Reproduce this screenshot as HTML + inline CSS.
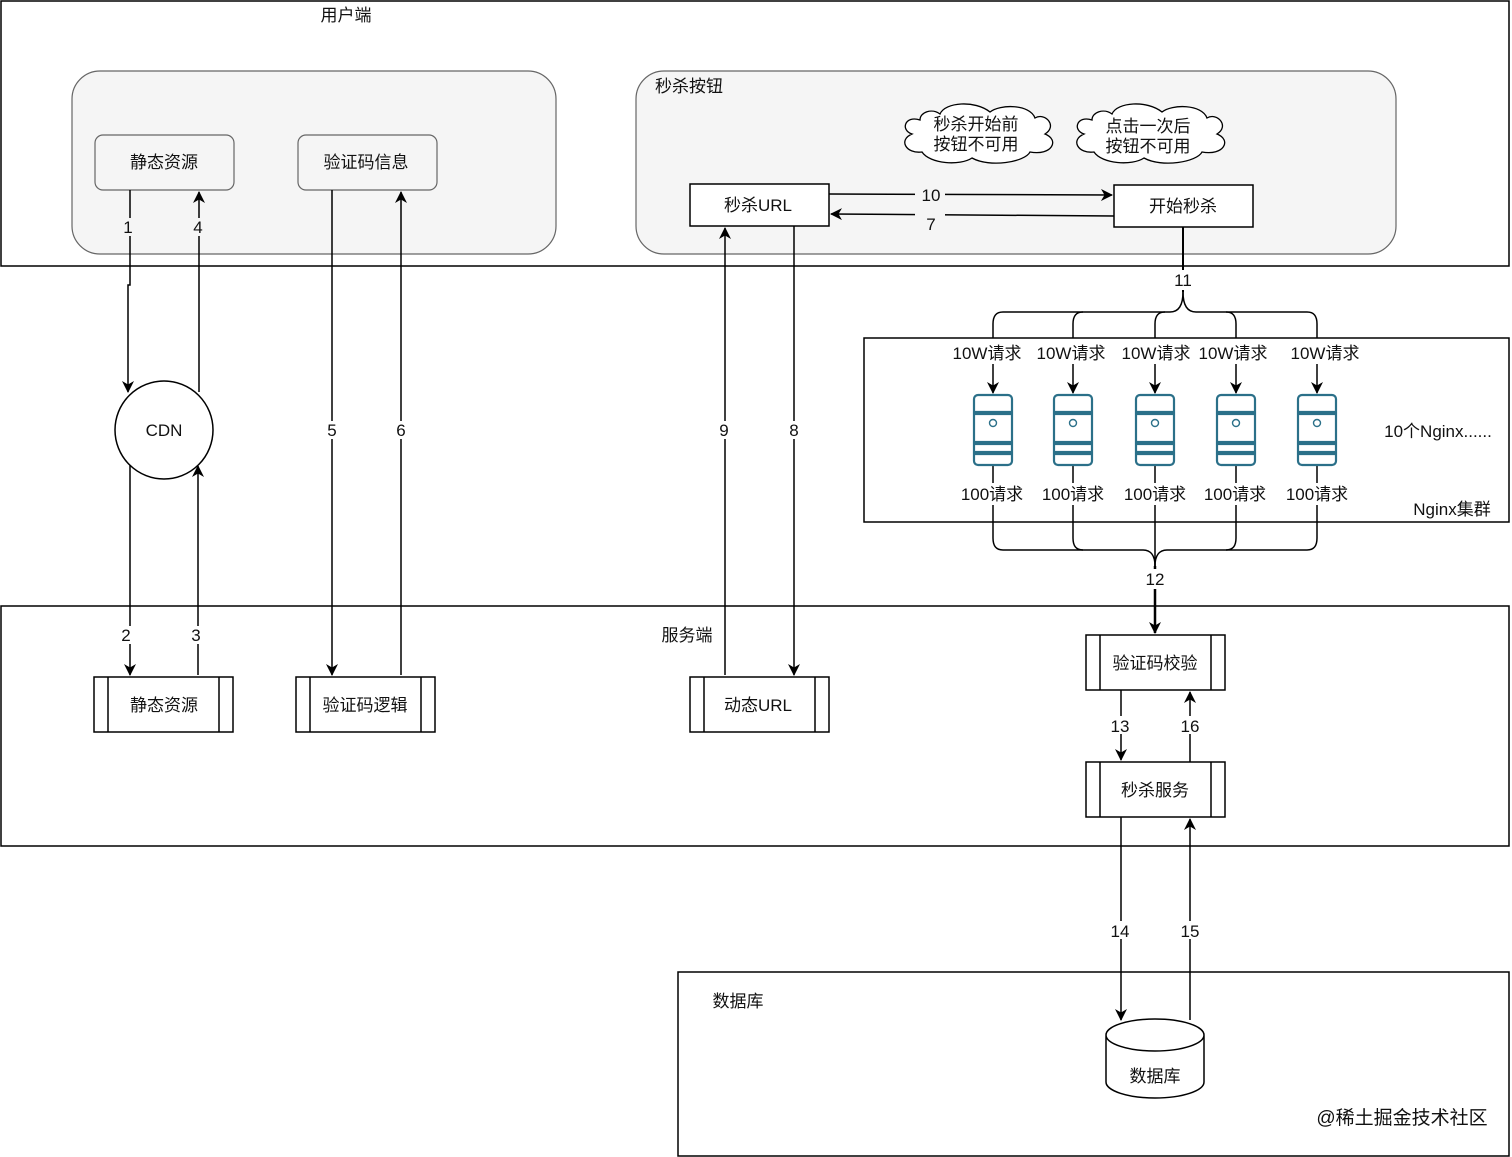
<!DOCTYPE html>
<html><head><meta charset="utf-8"><style>
html,body{margin:0;padding:0;background:#fff}
svg{display:block}
text{font-family:"Liberation Sans","Noto Sans CJK SC",sans-serif;font-size:17px;fill:#111}
</style></head><body>
<svg width="1512" height="1157" viewBox="0 0 1512 1157" xmlns="http://www.w3.org/2000/svg">
<defs>
<marker id="a" markerWidth="12" markerHeight="12" refX="11" refY="6" orient="auto" markerUnits="userSpaceOnUse">
<path d="M0,0 L12,6 L0,12 L3.5,6 Z" fill="#000"/></marker>
<g id="srv" fill="none" stroke="#2b7089" stroke-width="2.2">
<path d="M-19,412 V399 a4,4 0 0 1 4,-4 H15 a4,4 0 0 1 4,4 V412 Z"/>
<rect x="-19" y="414" width="38" height="28"/>
<circle cx="0" cy="423" r="3.5" stroke-width="1.4"/>
<rect x="-19" y="444" width="38" height="8"/>
<path d="M-19,454 H19 V461 a4,4 0 0 1 -4,4 H-15 a4,4 0 0 1 -4,-4 Z"/>
</g>
</defs>
<g fill="none" stroke="#000" stroke-width="1.5">
<rect x="1" y="1" width="1508" height="265"/>
<rect x="1" y="606" width="1508" height="240"/>
<rect x="678" y="972" width="831" height="184"/>
<rect x="864" y="338" width="645" height="184"/>
</g>
<rect x="72" y="71" width="484" height="183" rx="28" fill="#f5f5f5" stroke="#666" stroke-width="1.2"/>
<rect x="636" y="71" width="760" height="183" rx="28" fill="#f5f5f5" stroke="#666" stroke-width="1.2"/>
<rect x="95" y="135" width="139" height="55" rx="8" fill="#f5f5f5" stroke="#666" stroke-width="1.2"/>
<rect x="298" y="135" width="139" height="55" rx="8" fill="#f5f5f5" stroke="#666" stroke-width="1.2"/>
<g fill="#fff" stroke="#000" stroke-width="1.5">
<rect x="690" y="184" width="139" height="42"/>
<rect x="1114" y="185" width="139" height="42"/>
<circle cx="164" cy="430" r="49"/>
<rect x="94" y="677" width="139" height="55"/><line x1="108" y1="677" x2="108" y2="732"/><line x1="219" y1="677" x2="219" y2="732"/>
<rect x="296" y="677" width="139" height="55"/><line x1="310" y1="677" x2="310" y2="732"/><line x1="421" y1="677" x2="421" y2="732"/>
<rect x="690" y="677" width="139" height="55"/><line x1="704" y1="677" x2="704" y2="732"/><line x1="815" y1="677" x2="815" y2="732"/>
<rect x="1086" y="635" width="139" height="55"/><line x1="1100" y1="635" x2="1100" y2="690"/><line x1="1211" y1="635" x2="1211" y2="690"/>
<rect x="1086" y="762" width="139" height="55"/><line x1="1100" y1="762" x2="1100" y2="817"/><line x1="1211" y1="762" x2="1211" y2="817"/>
<path d="M1106,1035 V1082 A49,16 0 0 0 1204,1082 V1035 A49,16 0 0 0 1106,1035 A49,16 0 0 0 1204,1035"/>
</g>
<g fill="#fff" stroke="#000" stroke-width="1.3">
<path d="M920,120 C905,115 900,130 912,134 C898,140 906,154 922,152 C930,164 960,166 972,158 C990,168 1025,162 1030,152 C1052,156 1060,140 1045,134 C1058,126 1045,112 1035,118 C1030,104 1000,104 990,112 C975,100 945,102 940,114 C932,108 920,112 920,120 Z"/>
<path d="M1092,120 C1077,115 1072,130 1084,134 C1070,140 1078,154 1094,152 C1102,164 1132,166 1144,158 C1162,168 1197,162 1202,152 C1224,156 1232,140 1217,134 C1230,126 1217,112 1207,118 C1202,104 1172,104 1162,112 C1147,100 1117,102 1112,114 C1104,108 1092,112 1092,120 Z"/>
</g>
<g fill="none" stroke="#000" stroke-width="1.5">
<path d="M130,190 V285 H128 V392" marker-end="url(#a)"/>
<path d="M199,392 V192" marker-end="url(#a)"/>
<path d="M130,465 V675" marker-end="url(#a)"/>
<path d="M198,675 V466" marker-end="url(#a)"/>
<path d="M332,190 V675" marker-end="url(#a)"/>
<path d="M401,675 V192" marker-end="url(#a)"/>
<path d="M725,675 V228" marker-end="url(#a)"/>
<path d="M794,226 V675" marker-end="url(#a)"/>
<path d="M829,194 L1112,195" marker-end="url(#a)"/>
<path d="M1114,216 L831,214" marker-end="url(#a)"/>
<path d="M1121,690 V760" marker-end="url(#a)"/>
<path d="M1190,762 V692" marker-end="url(#a)"/>
<path d="M1121,817 V1020" marker-end="url(#a)"/>
<path d="M1190,1020 V819" marker-end="url(#a)"/>
<path d="M1183,227 V292" stroke-width="2"/>
<path d="M1183,292 C1183,306 1178,312 1170,312 H1003 C996,312 993,316 993,324 V338"/>
<path d="M1183,292 C1183,306 1188,312 1196,312 H1307 C1314,312 1317,316 1317,324 V338"/>
<path d="M1073,338 V324 C1073,316 1076,312 1083,312"/>
<path d="M1155,338 V324 C1155,316 1158,312 1165,312"/>
<path d="M1236,338 V324 C1236,316 1233,312 1226,312"/>
<path d="M993,505 V538 C993,546 996,550 1003,550 H1143 C1151,550 1155,556 1155,566"/>
<path d="M1317,505 V538 C1317,546 1314,550 1307,550 H1167 C1159,550 1155,556 1155,566"/>
<path d="M1073,505 V538 C1073,546 1076,550 1083,550"/>
<path d="M1236,505 V538 C1236,546 1233,550 1226,550"/>
<path d="M1155,505 V566"/>
<path d="M1155,566 V633" stroke-width="2.5" marker-end="url(#a)"/>
<path d="M993,364 V393" marker-end="url(#a)"/><path d="M1073,364 V393" marker-end="url(#a)"/><path d="M1155,364 V393" marker-end="url(#a)"/><path d="M1236,364 V393" marker-end="url(#a)"/><path d="M1317,364 V393" marker-end="url(#a)"/>
<path d="M993,465 V483"/><path d="M1073,465 V483"/><path d="M1155,465 V483"/><path d="M1236,465 V483"/><path d="M1317,465 V483"/>
</g>
<use href="#srv" x="993"/><use href="#srv" x="1073"/><use href="#srv" x="1155"/><use href="#srv" x="1236"/><use href="#srv" x="1317"/>
<g fill="#fff">
<rect x="120" y="218" width="16" height="18" fill="#f5f5f5"/><rect x="190" y="218" width="16" height="18" fill="#f5f5f5"/>
<rect x="118" y="626" width="16" height="18"/><rect x="188" y="626" width="16" height="18"/>
<rect x="324" y="421" width="16" height="18"/><rect x="393" y="421" width="16" height="18"/>
<rect x="716" y="421" width="16" height="18"/><rect x="786" y="421" width="16" height="18"/>
<rect x="915" y="186" width="30" height="18" fill="#f5f5f5"/><rect x="915" y="206" width="30" height="18" fill="#f5f5f5"/>
<rect x="1108" y="716" width="26" height="18"/><rect x="1178" y="716" width="26" height="18"/>
<rect x="1108" y="921" width="26" height="18"/><rect x="1178" y="921" width="26" height="18"/>
<rect x="1170" y="270" width="26" height="20"/><rect x="1142" y="569" width="26" height="20"/>
</g>
<g text-anchor="middle">
<text x="346" y="21">用户端</text>
<text x="164" y="168">静态资源</text>
<text x="366" y="168">验证码信息</text>
<text x="689" y="92" fill="#333">秒杀按钮</text>
<text x="758" y="211">秒杀URL</text>
<text x="1183" y="212">开始秒杀</text>
<text x="976" y="130">秒杀开始前</text><text x="976" y="150">按钮不可用</text>
<text x="1148" y="132">点击一次后</text><text x="1148" y="152">按钮不可用</text>
<text x="164" y="436">CDN</text>
<text x="128" y="233">1</text><text x="198" y="233">4</text>
<text x="126" y="641">2</text><text x="196" y="641">3</text>
<text x="332" y="436">5</text><text x="401" y="436">6</text>
<text x="724" y="436">9</text><text x="794" y="436">8</text>
<text x="931" y="201">10</text><text x="931" y="230">7</text>
<text x="1183" y="286">11</text><text x="1155" y="585">12</text>
<text x="1120" y="732">13</text><text x="1190" y="732">16</text>
<text x="1120" y="937">14</text><text x="1190" y="937">15</text>
<text x="687" y="641">服务端</text>
<text x="164" y="711">静态资源</text>
<text x="365" y="711">验证码逻辑</text>
<text x="758" y="711">动态URL</text>
<text x="1155" y="669">验证码校验</text>
<text x="1155" y="796">秒杀服务</text>
<text x="1155" y="1082">数据库</text>
<text x="738" y="1007">数据库</text>
<text x="987" y="359">10W请求</text><text x="1071" y="359">10W请求</text><text x="1156" y="359">10W请求</text><text x="1233" y="359">10W请求</text><text x="1325" y="359">10W请求</text>
<text x="992" y="500">100请求</text><text x="1073" y="500">100请求</text><text x="1155" y="500">100请求</text><text x="1235" y="500">100请求</text><text x="1317" y="500">100请求</text>
<text x="1438" y="437">10个Nginx......</text>
<text x="1452" y="515">Nginx集群</text>
<text x="1402" y="1124" fill="#b5b5b5" style="font-size:19px">@稀土掘金技术社区</text>
</g>
</svg>
</body></html>
